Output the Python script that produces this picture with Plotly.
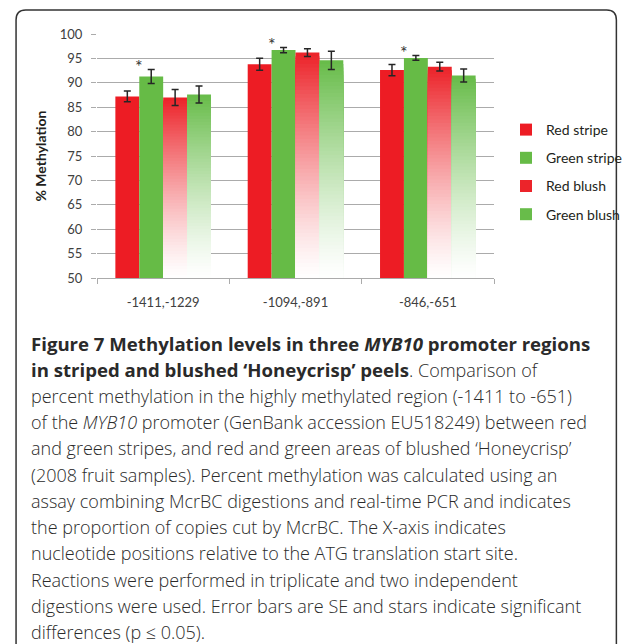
import plotly.graph_objects as go

# ---------------- data ----------------
categories = ["-1411,-1229", "-1094,-891", "-846,-651"]
series_names = ["Red stripe", "Green stripe", "Red blush", "Green blush"]
red_stripe = [87.2, 93.8, 92.6]
red_stripe_se = [1.1, 1.25, 1.15]
green_stripe = [91.3, 96.7, 95.1]
green_stripe_se = [1.45, 0.55, 0.5]
red_blush = [87.0, 96.2, 93.3]
red_blush_se = [1.65, 0.8, 0.9]
green_blush = [87.6, 94.6, 91.5]
green_blush_se = [1.75, 1.85, 1.35]
significant = [True, True, True]   # star between red and green stripe
y_min, y_max, y_step = 50, 100, 5
y_title = "% Methylation"

BS = "<b><span style='font-size:18.6px'>"
BE = "</span></b>"
caption_lines = [
    BS + "Figure 7 Methylation levels in three <i>MYB10</i> promoter regions" + BE,
    BS + "in striped and blushed ‘Honeycrisp’ peels" + BE + ". Comparison of",
    "percent methylation in the highly methylated region (-1411 to -651)",
    "of the <i>MYB10</i> promoter (GenBank accession EU518249) between red",
    "and green stripes, and red and green areas of blushed ‘Honeycrisp’",
    "(2008 fruit samples). Percent methylation was calculated using an",
    "assay combining McrBC digestions and real-time PCR and indicates",
    "the proportion of copies cut by McrBC. The X-axis indicates",
    "nucleotide positions relative to the ATG translation start site.",
    "Reactions were performed in triplicate and two independent",
    "digestions were used. Error bars are SE and stars indicate significant",
    "differences (p ≤ 0.05).",
]

# ---------------- style ----------------
W, H = 637, 644
L, R, T, B = 97, 128, 34, 366
PW, PH = W - L - R, H - T - B
RED = "#ED1C24"
GREEN = "#66BB46"
RED_TOP = (236, 36, 42)
GREEN_TOP = (104, 188, 74)
ERR = "#262626"
GRID = "#ABABAB"
TXT = "#404040"
bw = 0.1806  # bar width in category units
NSEG = 60
PAD = "\u00a0\u00a0\u00a0"


def xp(px):
    return (px - L) / PW


def yp(py):
    return (H - B - py) / PH


def grad_color(top, f):
    g = f ** 1.3
    r = [round(255 + (c - 255) * g) for c in top]
    return "rgb(%d,%d,%d)" % tuple(r)


fig = go.Figure()

err_style = dict(type="data", color=ERR, thickness=1.5, width=3.5, visible=True)

fig.add_trace(go.Bar(x=categories, y=red_stripe, name=series_names[0] + PAD, width=bw,
                     offset=-2 * bw, marker=dict(color=RED, line=dict(width=0)),
                     legendgroup="a", error_y=dict(array=red_stripe_se, **err_style)))
fig.add_trace(go.Bar(x=categories, y=green_stripe, name=series_names[1] + PAD, width=bw,
                     offset=-bw, marker=dict(color=GREEN, line=dict(width=0)),
                     legendgroup="b", error_y=dict(array=green_stripe_se, **err_style)))

for name, vals, ses, top, off, grp in [
    (series_names[2], red_blush, red_blush_se, RED_TOP, 0.0, "c"),
    (series_names[3], green_blush, green_blush_se, GREEN_TOP, bw, "d"),
]:
    xs, ys, cols = [], [], []
    for k in range(NSEG):
        f = 1 - k / NSEG
        for c, v in zip(categories, vals):
            xs.append(c)
            ys.append((v - y_min) * f)
            cols.append(grad_color(top, f))
    fig.add_trace(go.Bar(x=xs, y=ys, base=y_min, name=name + PAD, width=bw, offset=off,
                         marker=dict(color=cols, line=dict(width=0)), legendgroup=grp,
                         hoverinfo="skip"))
    fig.add_trace(go.Bar(x=categories, y=vals, width=bw, offset=off, showlegend=False,
                         marker=dict(color="rgba(0,0,0,0)", line=dict(width=0)),
                         error_y=dict(array=ses, **err_style), hoverinfo="skip"))

annotations = []
for i, (sig, v, e) in enumerate(zip(significant, green_stripe, green_stripe_se)):
    if sig:
        annotations.append(dict(x=i - bw, y=v + e, xref="x", yref="y", text="*",
                                showarrow=False, yanchor="middle", yshift=3,
                                font=dict(family="Lato", size=18, color="#333333")))

line_h = 26.3
for k, t in enumerate(caption_lines):
    annotations.append(dict(x=xp(26), y=yp(343 + k * line_h), xref="paper", yref="paper",
                            text=t, showarrow=False, xanchor="left", yanchor="middle",
                            align="left",
                            font=dict(family="Open Sans", size=18, color="#2a2a2a",
                                      weight=300)))

frame = "M %f %f L %f %f Q %f %f %f %f L %f %f Q %f %f %f %f L %f %f" % (
    xp(13), yp(660), xp(13), yp(20), xp(13), yp(10), xp(23), yp(10),
    xp(626), yp(10), xp(636), yp(10), xp(636), yp(20), xp(636), yp(660))

fig.update_layout(
    width=W, height=H,
    margin=dict(l=L, r=R, t=T, b=B, pad=0),
    paper_bgcolor="white", plot_bgcolor="white",
    barmode="overlay",
    showlegend=True,
    legend=dict(x=506 / W, xref="container", y=yp(114), yanchor="top", xanchor="left",
                font=dict(family="Lato", size=14, color="#231F20"),
                tracegroupgap=7, traceorder="grouped", bgcolor="rgba(0,0,0,0)"),
    xaxis=dict(type="category", range=[-0.5, 2.5], showgrid=False, showline=True,
               linecolor=GRID, linewidth=1, ticks="outside", tickson="boundaries",
               ticklen=5, tickcolor=GRID, ticklabelstandoff=12,
               tickfont=dict(family="Lato", size=13, color=TXT)),
    yaxis=dict(range=[y_min, y_max], dtick=y_step, tick0=y_min, showgrid=True,
               gridcolor=GRID, gridwidth=1, showline=False, zeroline=False,
               ticks="outside", ticklen=5, tickcolor=GRID, ticklabelstandoff=6,
               tickfont=dict(family="Lato", size=13, color=TXT),
               title=dict(text="<b>" + y_title + "</b>", standoff=9,
                          font=dict(family="Lato", size=14, color="#231F20"))),
    annotations=annotations,
    shapes=[dict(type="path", path=frame, xref="paper", yref="paper",
                 line=dict(color="#333333", width=1.5), fillcolor="rgba(0,0,0,0)",
                 layer="above")],
)

fig.write_html("out.html", config={"displayModeBar": False},
               post_script="document.body.style.margin='0';document.body.style.overflow='hidden';")
